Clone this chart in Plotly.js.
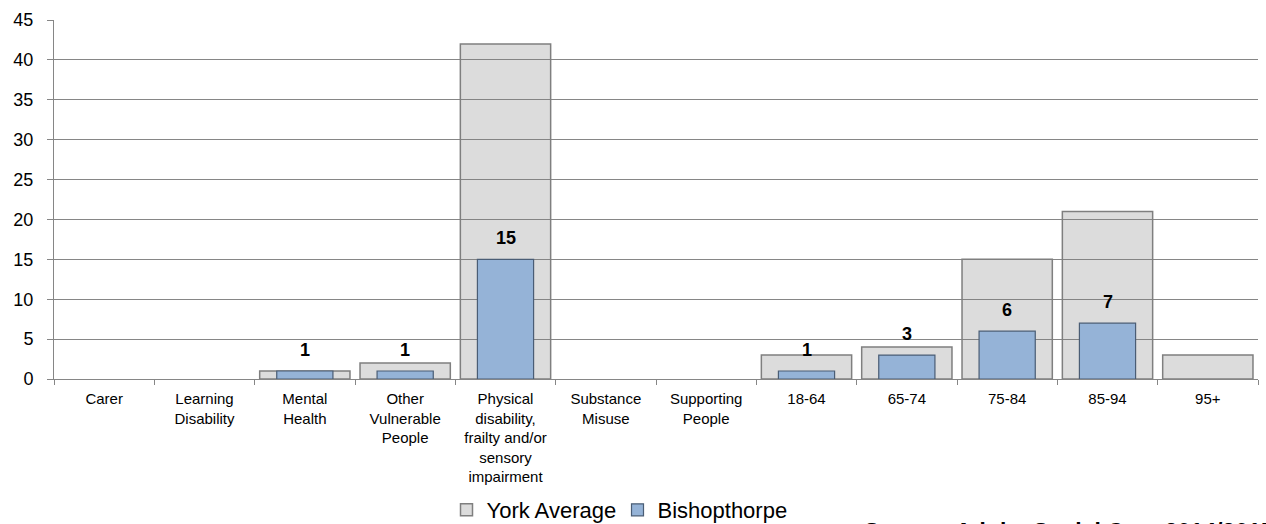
<!DOCTYPE html>
<html>
<head>
<meta charset="utf-8">
<script src="https://cdn.plot.ly/plotly-3.0.1.min.js"></script>
<style>html,body{margin:0;padding:0;background:#fff;}#chart{width:1266px;height:524px;}</style>
</head>
<body>
<div id="chart"></div>
<script>
const categories = ["Carer", "Learning<br>Disability", "Mental<br>Health", "Other<br>Vulnerable<br>People",
  "Physical<br>disability,<br>frailty and/or<br>sensory<br>impairment", "Substance<br>Misuse",
  "Supporting<br>People", "18-64", "65-74", "75-84", "85-94", "95+"];
const yorkAverage = [0, 0, 1, 2, 42, 0, 0, 3, 4, 15, 21, 3];
const bishopthorpe = [0, 0, 1, 1, 15, 0, 0, 1, 3, 6, 7, 0];
const yTicks = [0, 5, 10, 15, 20, 25, 30, 35, 40, 45];
const sourceText = "Source: Adults Social Care 2014/2015";

const FONT = "Liberation Sans, Arial, sans-serif";
// zero values are simply not drawn (no bar)
const hideZero = arr => arr.map(v => (v === 0 ? null : v));

const traces = [
  {
    type: "bar", name: "York Average", x: categories, y: hideZero(yorkAverage), width: 0.9,
    marker: {color: "rgba(128,128,128,0.28)", line: {color: "#7f7f7f", width: 1.5}},
    hoverinfo: "skip"
  },
  {
    type: "bar", name: "Bishopthorpe", x: categories, y: hideZero(bishopthorpe), width: 0.56,
    marker: {color: "#95b3d7", line: {color: "#4a5d75", width: 1.2}},
    hoverinfo: "skip"
  }
];

const annotations = [];
bishopthorpe.forEach((v, i) => {
  if (v > 0) {
    annotations.push({
      x: categories[i], y: v, xref: "x", yref: "y", text: "<b>" + v + "</b>",
      showarrow: false, yanchor: "middle", yshift: 21,
      font: {family: FONT, size: 18, color: "#000"}
    });
  }
});
annotations.push({
  x: 0.6715, y: -0.426, xref: "paper", yref: "paper", xanchor: "left", yanchor: "middle",
  text: "<b>" + sourceText + "</b>", showarrow: false,
  font: {family: FONT, size: 23, color: "#000"}
});

const layout = {
  width: 1266, height: 524,
  margin: {l: 54, r: 8, t: 20, b: 145, pad: 0, autoexpand: false},
  paper_bgcolor: "#fff", plot_bgcolor: "#fff",
  barmode: "overlay",
  font: {family: FONT, color: "#000"},
  showlegend: true,
  legend: {
    orientation: "h", x: 0.326, xanchor: "left", yref: "container", y: 0.0267, yanchor: "middle",
    font: {family: FONT, size: 22, color: "#000"}, traceorder: "normal",
    itemwidth: 30, entrywidth: 126, bgcolor: "rgba(0,0,0,0)"
  },
  xaxis: {
    type: "category", tickson: "boundaries", ticks: "outside", ticklen: 5,
    tickcolor: "#868686", showline: true, linecolor: "#868686", linewidth: 1,
    showgrid: false, zeroline: false, tickangle: 0,
    tickfont: {family: "Liberation Sans Narrow, Arial Narrow, " + FONT, size: 15, color: "#000"},
    ticklabelstandoff: 6, fixedrange: true
  },
  yaxis: {
    range: [0, 45], tickvals: yTicks, ticktext: yTicks.map(String),
    ticks: "outside", ticklen: 6, tickcolor: "#868686",
    showline: true, linecolor: "#868686", linewidth: 1,
    showgrid: true, gridcolor: "#868686", gridwidth: 1, zeroline: false,
    tickfont: {family: FONT, size: 18, color: "#000"},
    ticklabelstandoff: 10, fixedrange: true
  },
  annotations: annotations
};

Plotly.newPlot("chart", traces, layout, {displayModeBar: false, staticPlot: true});
</script>
</body>
</html>
